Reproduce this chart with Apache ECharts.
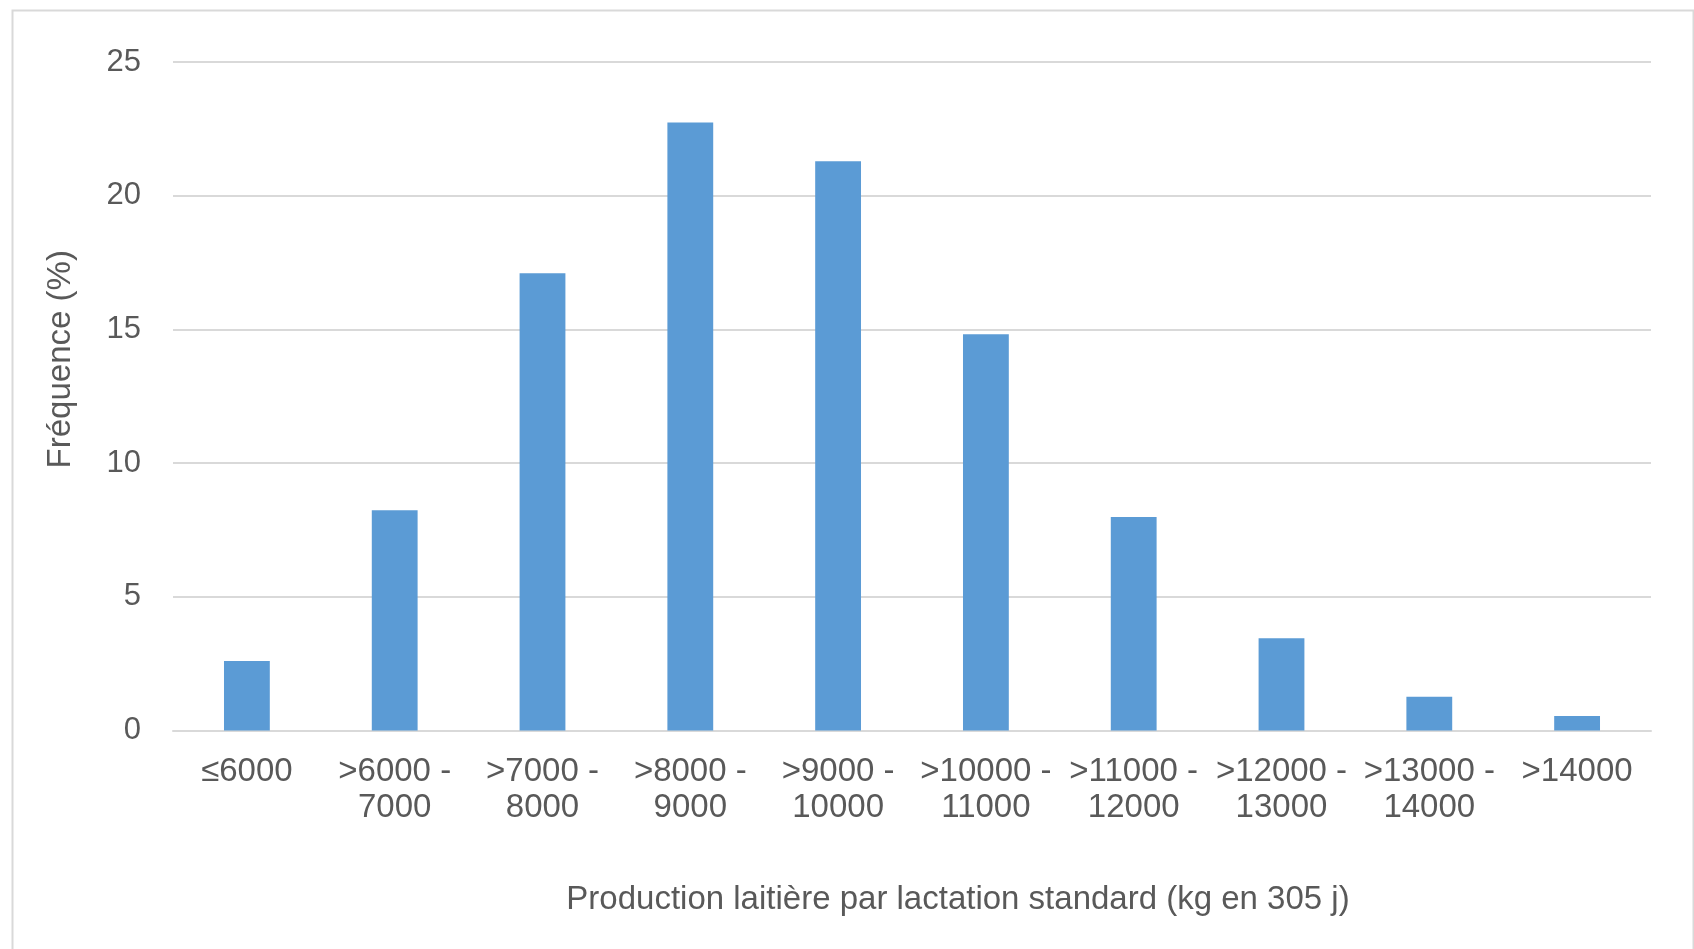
<!DOCTYPE html>
<html lang="fr">
<head>
<meta charset="utf-8">
<title>Production laitière par lactation standard</title>
<script src="https://cdn.jsdelivr.net/npm/echarts@6/dist/echarts.min.js"></script>
<style>
  html, body { margin: 0; padding: 0; background: #ffffff; }
  #chart { width: 1694px; height: 949px; }
</style>
</head>
<body>
<div id="chart"></div>
<script>
// Classes de production (kg en 305 j)
const categories = [
  '≤6000',
  '>6000 -\n7000',
  '>7000 -\n8000',
  '>8000 -\n9000',
  '>9000 -\n10000',
  '>10000 -\n11000',
  '>11000 -\n12000',
  '>12000 -\n13000',
  '>13000 -\n14000',
  '>14000'
];

// Fréquence (%) par classe
const frequences = [2.6, 8.24, 17.1, 22.74, 21.29, 14.82, 7.98, 3.45, 1.26, 0.54];

// Graduations de l'axe des fréquences
const yTicks = { min: 0, max: 25, interval: 5 };

const FONT = "'Liberation Sans', Arial, sans-serif";
const TEXT_COLOR = '#595959';
const GRID_COLOR = '#d9d9d9';

const chart = echarts.init(document.getElementById('chart'), null, { renderer: 'canvas' });

chart.setOption({
  backgroundColor: '#ffffff',
  animation: false,
  textStyle: { fontFamily: FONT },
  graphic: [{
    type: 'rect',
    left: 10,
    top: 8,
    silent: true,
    shape: { width: 1681, height: 1000 },
    style: { fill: 'none', stroke: GRID_COLOR, lineWidth: 2 }
  }],
  grid: { left: 173, right: 43, top: 62, bottom: 218.5 },
  xAxis: {
    type: 'category',
    data: categories,
    name: 'Production laitière par lactation standard (kg en 305 j)',
    nameLocation: 'middle',
    nameGap: 153,
    nameTextStyle: {
      fontFamily: FONT, fontSize: 33, color: TEXT_COLOR,
      padding: [0, 0, 0, 92]
    },
    axisLine: { show: true, lineStyle: { color: GRID_COLOR, width: 2 } },
    axisTick: { show: false },
    axisLabel: {
      interval: 0,
      margin: 23,
      fontFamily: FONT, fontSize: 33, color: TEXT_COLOR,
      lineHeight: 36,
      align: 'center',
      verticalAlign: 'top'
    }
  },
  yAxis: {
    type: 'value',
    min: yTicks.min,
    max: yTicks.max,
    interval: yTicks.interval,
    name: 'Fréquence (%)',
    nameLocation: 'middle',
    nameGap: 96,
    nameRotate: 90,
    nameTextStyle: {
      fontFamily: FONT, fontSize: 33, color: TEXT_COLOR,
      padding: [0, 0, 0, 74]
    },
    axisLine: { show: false },
    axisTick: { show: false },
    axisLabel: {
      margin: 32,
      fontFamily: FONT, fontSize: 31, color: TEXT_COLOR
    },
    splitLine: { lineStyle: { color: GRID_COLOR, width: 2 } }
  },
  series: [{
    type: 'bar',
    data: frequences,
    barWidth: '31%',
    itemStyle: { color: '#5b9bd5' }
  }]
});
</script>
</body>
</html>
